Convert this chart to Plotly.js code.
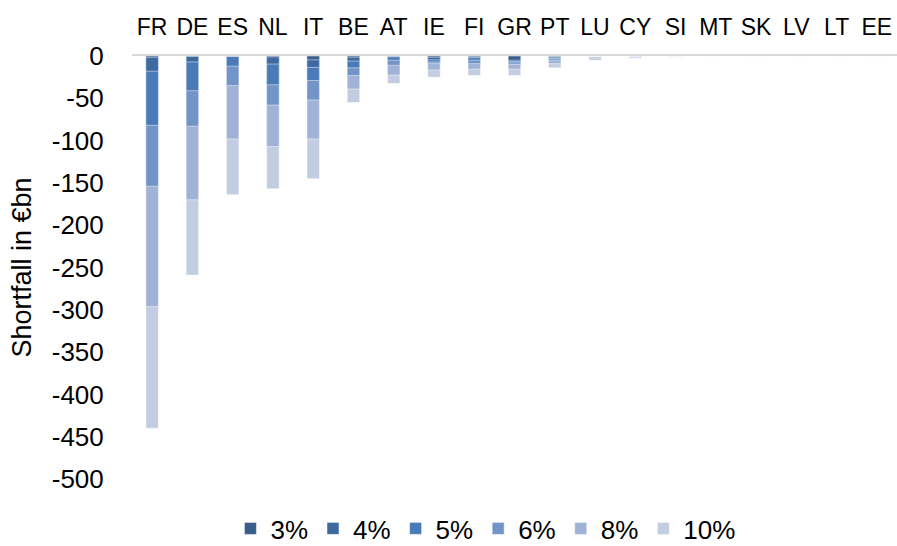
<!DOCTYPE html>
<html>
<head>
<meta charset="utf-8">
<script src="https://cdn.plot.ly/plotly-3.0.1.min.js"></script>
<style>html,body{margin:0;padding:0;background:#fff;}#chart{width:897px;height:546px;}</style>
</head>
<body>
<div id="chart"></div>
<script>
// Countries (categories)
const countries = ["FR","DE","ES","NL","IT","BE","AT","IE","FI","GR","PT","LU","CY","SI","MT","SK","LV","LT","EE"];
// Shortfall in €bn at each threshold (cumulative)
const s3  = [-1.5, -0.3, -0.3, -1,  -4.5, -1.5, -0.5, -1.5, -1,  -5,  -0.5, 0,    0,    0,    0,    0,    0,    0,    0];
const s4  = [-18,  -7,   -0.5, -9.5,-13.5,-6,   -1,   -4.5, -2,  -6.5,-1.5, 0,    0,    0,    0,    0,    0,    0,    0];
const s5  = [-82,  -41,  -12,  -34, -29,  -14,  -5,   -7,   -5,  -8,  -3,   0,    -0.5, 0,    0,    0,    0,    0,    0];
const s6  = [-154, -83,  -35,  -58, -52,  -23,  -11,  -9,   -9,  -10, -5,   -0.5, -1.5, -0.5, 0,    0,    0,    0,    0];
const s8  = [-296, -170, -98,  -107,-98,  -39,  -22.5,-16.5,-15.5,-15.5,-9, -2,   -2,   -1,   -0.3, -0.3, -0.3, -0.3, -0.3];
const s10 = [-440, -259, -164, -157,-145, -55,  -32.5,-25,  -23, -23, -14,  -5,   -2.5, -1.5, -0.5, -0.5, -0.5, -0.5, -0.5];
const seriesNames = ["3%","4%","5%","6%","8%","10%"];
const seriesColors = ["#3A5E8C","#3F6AA0","#4A7BB8","#7394C7","#A0B3D6","#C3CDE2"];
const seriesValues = [s3, s4, s5, s6, s8, s10];
// Y tick values and labels (hyphen minus as in the original)
const yTickVals = [0, -50, -100, -150, -200, -250, -300, -350, -400, -450, -500];
const yTickText = ["0","-50","-100","-150","-200","-250","-300","-350","-400","-450","-500"];

const traces = [];
// draw the largest shortfall first so smaller thresholds sit on top
for (let i = seriesValues.length - 1; i >= 0; i--) {
  traces.push({
    type: "bar",
    name: seriesNames[i],
    x: countries,
    y: seriesValues[i],
    marker: {color: seriesColors[i], line: {color: "rgba(255,255,255,0.6)", width: 0.8}},
    hoverinfo: "x+y+name"
  });
}

const layout = {
  width: 897, height: 546,
  margin: {l: 132, r: 0, t: 55.5, b: 66.5, autoexpand: false},
  paper_bgcolor: "#ffffff", plot_bgcolor: "#ffffff",
  font: {family: "Liberation Sans, Arial, sans-serif", color: "#000000"},
  barmode: "overlay",
  bargap: 0.69,
  showlegend: true,
  legend: {
    orientation: "h", x: 0.462, xanchor: "center", y: -0.117, yanchor: "middle",
    traceorder: "reversed", font: {size: 26, color: "#000"}, itemgap: 2
  },
  xaxis: {
    side: "top", type: "category",
    showline: true, linecolor: "#D9D9D9", linewidth: 2,
    showgrid: false, zeroline: false,
    ticks: "outside", ticklen: 10, tickcolor: "rgba(0,0,0,0)",
    tickfont: {size: 23, color: "#000"}, automargin: false
  },
  yaxis: {
    range: [-500, 0], tickmode: "array", tickvals: yTickVals, ticktext: yTickText,
    showgrid: false, zeroline: false, showline: false,
    ticks: "outside", ticklen: 22, tickcolor: "rgba(0,0,0,0)",
    tickfont: {size: 26, color: "#000"},
    title: {text: "Shortfall in €bn", font: {size: 27, color: "#000"}, standoff: 12},
    automargin: false
  }
};

Plotly.newPlot("chart", traces, layout, {displayModeBar: false, staticPlot: true});
</script>
</body>
</html>
